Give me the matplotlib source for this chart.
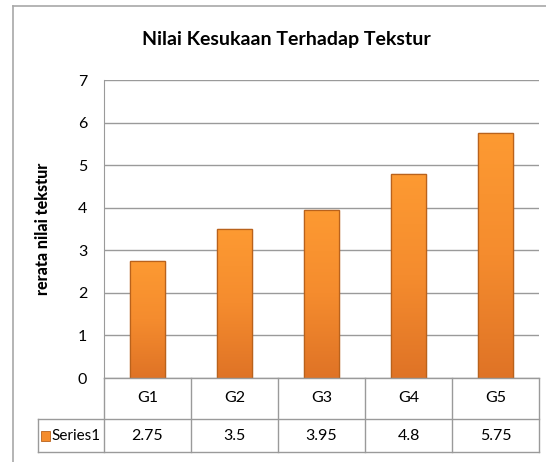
import matplotlib.pyplot as plt
import numpy as np
from matplotlib.patches import Rectangle
from matplotlib.lines import Line2D
from matplotlib.colors import LinearSegmentedColormap

plt.rcParams['font.family'] = ['Lato', 'DejaVu Sans']

# data
groups = ['G1', 'G2', 'G3', 'G4', 'G5']
values = [2.75, 3.5, 3.95, 4.8, 5.75]
value_labels = ['2.75', '3.5', '3.95', '4.8', '5.75']
series_name = 'Series1'
title = 'Nilai Kesukaan Terhadap Tekstur'
ylabel = 'rerata nilai tekstur'

W, H = 546, 462
fig = plt.figure(figsize=(W / 100, H / 100), dpi=100)

def fx(px):
    return px / W

def fy(py):
    return 1 - py / H

# plot area in pixels
left, right, top, bottom = 104, 539, 80, 378
ax = fig.add_axes([fx(left), fy(bottom), fx(right - left), fy(top) - fy(bottom)])

x = np.arange(len(groups))
bars = ax.bar(x, values, width=0.41, color='#F58C2C', edgecolor='#B9621C', linewidth=0.9, zorder=3)

# orange gradient inside each bar
grad = np.linspace(0, 1, 256).reshape(-1, 1)
cmap = LinearSegmentedColormap.from_list('og', ['#DF7326', '#F58C2E', '#FD9A32'])
for b in bars:
    x0, y0 = b.get_x(), b.get_y()
    w, h = b.get_width(), b.get_height()
    im = ax.imshow(grad, extent=[x0, x0 + w, y0, y0 + h], origin='lower', aspect='auto',
                   cmap=cmap, zorder=3.5)
    im.set_clip_path(b)
    edge = Rectangle((x0, y0), w, h, fill=False, edgecolor='#B9621C', linewidth=0.9, zorder=4)
    ax.add_patch(edge)

ax.set_xlim(-0.5, len(groups) - 0.5)
ax.set_ylim(0, 7)
ax.set_yticks(range(0, 8))
ax.yaxis.grid(True, color='#9a9a9a', linewidth=1.0, zorder=0)
ax.set_xticks([])
ax.tick_params(axis='y', length=0, labelsize=11.5, pad=12)
for s in ['top', 'right', 'bottom']:
    ax.spines[s].set_visible(False)
ax.spines['left'].set_color('#9a9a9a')
ax.set_axisbelow(True)

# outer chart border (left and top)
line_kw = dict(color='#a8a8a8', linewidth=1.2, transform=fig.transFigure)
fig.add_artist(Line2D([fx(13), fx(13)], [fy(6), fy(462)], **line_kw))
fig.add_artist(Line2D([fx(13), fx(546)], [fy(6), fy(6)], **line_kw))

fig.text(fx(286), fy(40), title, ha='center', va='center', fontsize=14, fontweight='bold')
fig.text(fx(43), fy(229), ylabel, ha='center', va='center', rotation=90,
         fontsize=11.5, fontweight='black')

# data table under the plot
tbl_kw = dict(color='#9a9a9a', linewidth=1.0, transform=fig.transFigure)
col_w = (right - left) / len(groups)
row1_bot, row2_bot = 419, 452
tbl_left = 38
for i in range(len(groups) + 1):
    xp = left + i * col_w
    fig.add_artist(Line2D([fx(xp), fx(xp)], [fy(bottom), fy(row2_bot)], **tbl_kw))
fig.add_artist(Line2D([fx(left), fx(right)], [fy(bottom), fy(bottom)], **tbl_kw))
fig.add_artist(Line2D([fx(tbl_left), fx(right)], [fy(row1_bot), fy(row1_bot)], **tbl_kw))
fig.add_artist(Line2D([fx(tbl_left), fx(right)], [fy(row2_bot), fy(row2_bot)], **tbl_kw))
fig.add_artist(Line2D([fx(tbl_left), fx(tbl_left)], [fy(row1_bot), fy(row2_bot)], **tbl_kw))

for i, (g, v) in enumerate(zip(groups, value_labels)):
    cx = left + (i + 0.5) * col_w
    fig.text(fx(cx), fy((bottom + row1_bot) / 2), g, ha='center', va='center', fontsize=11.5)
    fig.text(fx(cx), fy((row1_bot + row2_bot) / 2), v, ha='center', va='center', fontsize=11.5)

# legend key in the table
key_y = (row1_bot + row2_bot) / 2
fig.add_artist(Rectangle((fx(41), fy(key_y + 5)), fx(9), fy(0) - fy(10), facecolor='#F58C2C',
                         edgecolor='#B9621C', linewidth=0.6, transform=fig.transFigure))
fig.text(fx(51), fy(key_y), series_name, ha='left', va='center', fontsize=11)

fig.savefig('out.png', dpi=100)
